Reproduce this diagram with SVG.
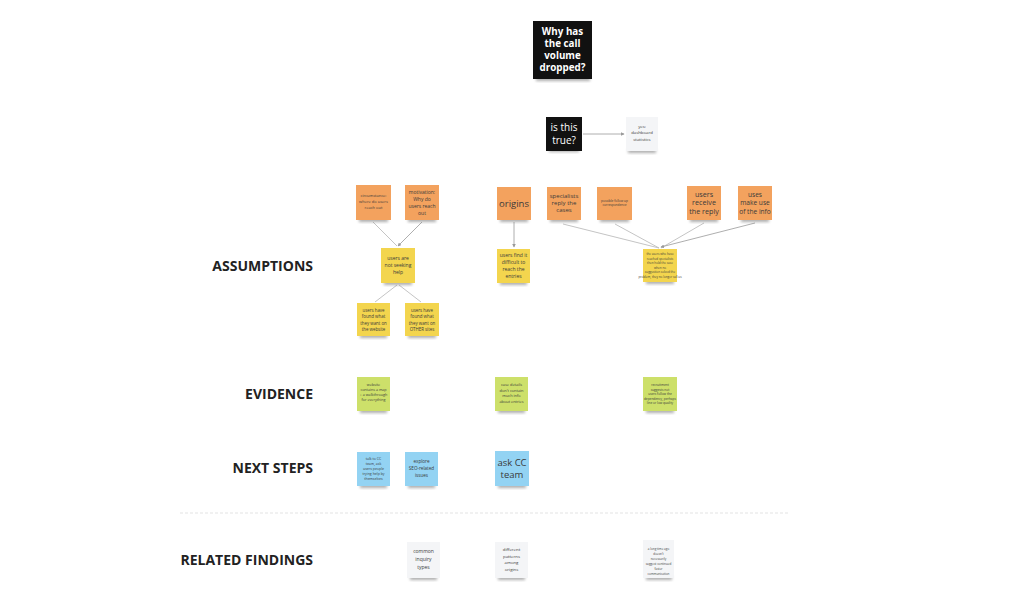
<svg xmlns="http://www.w3.org/2000/svg" width="1024" height="610" viewBox="0 0 1024 610">
<defs>
<filter id="sh" x="-30%" y="-30%" width="160%" height="180%">
<feGaussianBlur stdDeviation="1.4"/>
</filter>
<marker id="ah" viewBox="0 0 6 6" refX="5" refY="3" markerWidth="4" markerHeight="4" orient="auto">
<path d="M0,0 L6,3 L0,6 z" fill="#9a9a9a"/>
</marker>
</defs>
<style>
.t{font-family:"Open Sans","Liberation Sans",sans-serif;text-anchor:middle;fill:#3a3a3a}
.w{fill:#ffffff}
.b{font-weight:bold}
.lab{font-family:"Open Sans","Liberation Sans",sans-serif;font-weight:bold;font-size:14px;fill:#222;text-anchor:end}
.or{fill:#f3a25e}
.ye{fill:#f3d54e}
.gr{fill:#cde06a}
.bl{fill:#93d3f3}
.gy{fill:#f4f5f7}
.bk{fill:#111111}
.s{fill:#6b6b6b;opacity:0.55;filter:url(#sh)}
.c{stroke:#bdbdbd;stroke-width:0.9;fill:none}
.ca{stroke:#a5a5a5;stroke-width:0.9;fill:none;marker-end:url(#ah)}
</style>
<rect width="1024" height="610" fill="#ffffff"/>

<g id="labels">
<text class="lab" x="313" y="271">ASSUMPTIONS</text>
<text class="lab" x="313" y="399">EVIDENCE</text>
<text class="lab" x="313" y="473">NEXT STEPS</text>
<text class="lab" x="313" y="565">RELATED FINDINGS</text>
<line x1="180" y1="513" x2="790" y2="513" stroke="#e3e3e3" stroke-width="1" stroke-dasharray="3,2"/>
</g>

<g id="connectors">
<path class="c" d="M373,222 L397,246"/>
<path class="ca" d="M422,222 L398,246"/>
<path class="c" d="M397,285 L375,302"/>
<path class="c" d="M399,285 L421,302"/>
<path class="ca" d="M514,222 L514,247"/>
<path class="c" d="M563,224 L659,248"/>
<path class="c" d="M615,224 L659,248"/>
<path class="c" d="M704,223 L661,248"/>
<path class="ca" d="M755,223 L661,247"/>
<path class="ca" d="M583,134 L624,134"/>
</g>

<g id="n-question">
<rect class="s" x="536" y="77" width="54" height="4"/>
<rect class="bk" x="533" y="21" width="59" height="58"/>
<text class="t w b" font-size="9.8" x="562.5"><tspan x="562.5" y="35">Why has</tspan><tspan x="562.5" y="47">the call</tspan><tspan x="562.5" y="59">volume</tspan><tspan x="562.5" y="71">dropped?</tspan></text>
</g>

<g id="n-true">
<rect class="s" x="549" y="148" width="30" height="4"/>
<rect class="bk" x="546" y="117" width="36" height="34"/>
<text class="t w" font-size="10" x="564"><tspan x="564" y="131">is this</tspan><tspan x="564" y="144">true?</tspan></text>
</g>

<g id="n-yes">
<rect class="s" x="628" y="149" width="28" height="4"/>
<rect class="gy" x="626" y="117" width="32" height="34"/>
<text class="t" font-size="4.3" x="642"><tspan x="642" y="128">yes:</tspan><tspan x="642" y="134">dashboard</tspan><tspan x="642" y="141">statistics</tspan></text>
</g>

<g id="o1">
<rect class="s" x="359" y="218" width="29" height="4"/>
<rect class="or" x="356" y="185" width="35" height="35"/>
<text class="t" font-size="4" x="373.5"><tspan x="373.5" y="197">circumstance:</tspan><tspan x="373.5" y="203">where do users</tspan><tspan x="373.5" y="209">reach out</tspan></text>
</g>
<g id="o2">
<rect class="s" x="408" y="218" width="28" height="4"/>
<rect class="or" x="405" y="185" width="34" height="35"/>
<text class="t" font-size="5" x="422"><tspan x="422" y="194">motivation:</tspan><tspan x="422" y="201">Why do</tspan><tspan x="422" y="208">users reach</tspan><tspan x="422" y="215">out</tspan></text>
</g>
<g id="o3">
<rect class="s" x="500" y="218" width="28" height="4"/>
<rect class="or" x="497" y="187" width="34" height="33"/>
<text class="t" font-size="9.5" x="514" y="207">origins</text>
</g>
<g id="o4">
<rect class="s" x="550" y="218" width="28" height="4"/>
<rect class="or" x="547" y="187" width="34" height="33"/>
<text class="t" font-size="6" x="564"><tspan x="564" y="198">specialists</tspan><tspan x="564" y="205">reply the</tspan><tspan x="564" y="212">cases</tspan></text>
</g>
<g id="o5">
<rect class="s" x="600" y="218" width="29" height="4"/>
<rect class="or" x="597" y="187" width="35" height="33"/>
<text class="t" font-size="3.2" x="614.5"><tspan x="614.5" y="202">possible follow up</tspan><tspan x="614.5" y="206">correspondence</tspan></text>
</g>
<g id="o6">
<rect class="s" x="690" y="218" width="28" height="4"/>
<rect class="or" x="687" y="186" width="34" height="34"/>
<text class="t" font-size="7.2" x="704"><tspan x="704" y="197">users</tspan><tspan x="704" y="205">receive</tspan><tspan x="704" y="213.5">the reply</tspan></text>
</g>
<g id="o7">
<rect class="s" x="741" y="218" width="28" height="4"/>
<rect class="or" x="738" y="186" width="34" height="34"/>
<text class="t" font-size="6.6" x="755"><tspan x="755" y="197">uses</tspan><tspan x="755" y="205">make use</tspan><tspan x="755" y="213.5">of the info</tspan></text>
</g>

<g id="y1">
<rect class="s" x="384" y="281" width="28" height="4"/>
<rect class="ye" x="381" y="248" width="34" height="35"/>
<text class="t" font-size="5" x="398"><tspan x="398" y="260">users are</tspan><tspan x="398" y="267">not seeking</tspan><tspan x="398" y="274">help</tspan></text>
</g>
<g id="y2">
<rect class="s" x="360" y="334" width="27" height="4"/>
<rect class="ye" x="357" y="303" width="33" height="33"/>
<text class="t" font-size="4.4" x="373.5"><tspan x="373.5" y="312">users have</tspan><tspan x="373.5" y="318">found what</tspan><tspan x="373.5" y="325">they want on</tspan><tspan x="373.5" y="331">the website</tspan></text>
</g>
<g id="y3">
<rect class="s" x="408" y="334" width="28" height="4"/>
<rect class="ye" x="405" y="303" width="34" height="33"/>
<text class="t" font-size="4.4" x="422"><tspan x="422" y="312">users have</tspan><tspan x="422" y="318">found what</tspan><tspan x="422" y="325">they want on</tspan><tspan x="422" y="331">OTHER sites</tspan></text>
</g>
<g id="y4">
<rect class="s" x="500" y="281" width="27" height="4"/>
<rect class="ye" x="497" y="249" width="33" height="34"/>
<text class="t" font-size="5" x="513.5"><tspan x="513.5" y="257">users find it</tspan><tspan x="513.5" y="264">difficult to</tspan><tspan x="513.5" y="271">reach the</tspan><tspan x="513.5" y="278">entries</tspan></text>
</g>
<g id="y5">
<rect class="s" x="646" y="280" width="28" height="4"/>
<rect class="ye" x="643" y="249" width="34" height="33"/>
<text class="t" font-size="3" x="660"><tspan x="660" y="255">the users who have</tspan><tspan x="660" y="259.5">reached specialists</tspan><tspan x="660" y="264">then hold the case</tspan><tspan x="660" y="268.5">when no</tspan><tspan x="660" y="273">suggestion solved the</tspan><tspan x="660" y="277.5">problem, they no longer call us</tspan></text>
</g>

<g id="g1">
<rect class="s" x="360" y="409" width="27" height="4"/>
<rect class="gr" x="357" y="377" width="33" height="34"/>
<text class="t" font-size="3.7" x="373.5"><tspan x="373.5" y="386">website</tspan><tspan x="373.5" y="391">contains a map</tspan><tspan x="373.5" y="396">+ a walkthrough</tspan><tspan x="373.5" y="401">for everything</tspan></text>
</g>
<g id="g2">
<rect class="s" x="498" y="409" width="27" height="4"/>
<rect class="gr" x="495" y="377" width="33" height="34"/>
<text class="t" font-size="3.9" x="511.5"><tspan x="511.5" y="386">case details</tspan><tspan x="511.5" y="391.5">don't contain</tspan><tspan x="511.5" y="397">much info</tspan><tspan x="511.5" y="402.5">about entries</tspan></text>
</g>
<g id="g3">
<rect class="s" x="646" y="409" width="28" height="4"/>
<rect class="gr" x="643" y="377" width="34" height="34"/>
<text class="t" font-size="3.2" x="660"><tspan x="660" y="386">recruitment</tspan><tspan x="660" y="390.5">suggests not</tspan><tspan x="660" y="395">users follow the</tspan><tspan x="660" y="399.5">dependency, perhaps</tspan><tspan x="660" y="404">line or low quality</tspan></text>
</g>

<g id="b1">
<rect class="s" x="360" y="484" width="27" height="4"/>
<rect class="bl" x="357" y="452" width="33" height="34"/>
<text class="t" font-size="3.5" x="373.5"><tspan x="373.5" y="460">talk to CC</tspan><tspan x="373.5" y="465">team, ask</tspan><tspan x="373.5" y="470">users people</tspan><tspan x="373.5" y="475">trying help by</tspan><tspan x="373.5" y="480">themselves</tspan></text>
</g>
<g id="b2">
<rect class="s" x="408" y="484" width="27" height="4"/>
<rect class="bl" x="405" y="452" width="33" height="34"/>
<text class="t" font-size="4.6" x="421.5"><tspan x="421.5" y="463">explore</tspan><tspan x="421.5" y="470">SEO-related</tspan><tspan x="421.5" y="477">issues</tspan></text>
</g>
<g id="b3">
<rect class="s" x="498" y="484" width="28" height="4"/>
<rect class="bl" x="495" y="451" width="34" height="35"/>
<text class="t" font-size="9.5" x="512"><tspan x="512" y="466">ask CC</tspan><tspan x="512" y="478">team</tspan></text>
</g>

<g id="r1">
<rect class="s" x="410" y="576" width="27" height="4"/>
<rect class="gy" x="407" y="542" width="33" height="36"/>
<text class="t" font-size="5" x="423.5"><tspan x="423.5" y="553">common</tspan><tspan x="423.5" y="561">inquiry</tspan><tspan x="423.5" y="569">types</tspan></text>
</g>
<g id="r2">
<rect class="s" x="498" y="576" width="27" height="4"/>
<rect class="gy" x="495" y="542" width="33" height="36"/>
<text class="t" font-size="4.3" x="511.5"><tspan x="511.5" y="551">different</tspan><tspan x="511.5" y="557.5">patterns</tspan><tspan x="511.5" y="564">among</tspan><tspan x="511.5" y="570.5">origins</tspan></text>
</g>
<g id="r3">
<rect class="s" x="646" y="576" width="26" height="4"/>
<rect class="gy" x="643" y="540" width="31" height="38"/>
<text class="t" font-size="3" x="658.5"><tspan x="658.5" y="550">a long time ago</tspan><tspan x="658.5" y="555">doesn't</tspan><tspan x="658.5" y="560">necessarily</tspan><tspan x="658.5" y="565">suggest continued</tspan><tspan x="658.5" y="570">faster</tspan><tspan x="658.5" y="575">communication</tspan></text>
</g>
</svg>
